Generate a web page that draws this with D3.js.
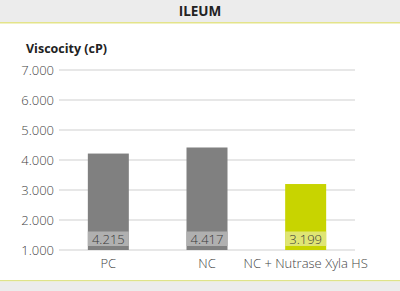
<!DOCTYPE html>
<html>
<head>
<meta charset="utf-8">
<script src="https://cdn.jsdelivr.net/npm/d3@7"></script>
<style>
  body { margin: 0; background: #fff; }
  svg { display: block; font-family: "Open Sans", sans-serif; }
</style>
</head>
<body>
<svg width="400" height="291"></svg>
<script>
const categories = ["PC", "NC", "NC + Nutrase Xyla HS"];
const viscosity = [4215, 4417, 3199];
const valueLabels = ["4.215", "4.417", "3.199"];
const yTicks = [1000, 2000, 3000, 4000, 5000, 6000, 7000];
const yTickLabels = ["1.000", "2.000", "3.000", "4.000", "5.000", "6.000", "7.000"];

const svg = d3.select("svg");
const attr_area = { left: 59, right: 355, top: 70, bottom: 250 };

// header and footer bands
svg.append("rect").attr("x", 0).attr("y", 0).attr("width", 400).attr("height", 22).attr("fill", "#ececec");
svg.append("rect").attr("x", 0).attr("y", 22).attr("width", 400).attr("height", 1.5).attr("fill", "#e4e48a");
svg.append("text").attr("x", 200).attr("y", 16).attr("text-anchor", "middle")
    .attr("font-size", 13.5).attr("font-weight", "bold").attr("fill", "#222").text("ILEUM");

svg.append("rect").attr("x", 0).attr("y", 280).attr("width", 400).attr("height", 1.5).attr("fill", "#dfe38a");
svg.append("rect").attr("x", 0).attr("y", 281.5).attr("width", 400).attr("height", 10).attr("fill", "#ececec");

svg.append("text").attr("x", 26).attr("y", 53)
    .attr("font-size", 12.5).attr("font-weight", "bold").attr("fill", "#222").text("Viscocity (cP)");

let scaleX = d3.scaleBand()
    .domain(categories)
    .range([attr_area.left, attr_area.right])
    .padding(0);

let scaleY = d3.scaleLinear()
    .domain([1000, 7000])
    .range([attr_area.bottom, attr_area.top]);

// gridlines
svg.append("g")
    .selectAll("line")
    .data(yTicks)
    .enter()
    .append("line")
    .attr("x1", attr_area.left)
    .attr("x2", attr_area.right)
    .attr("y1", d => scaleY(d))
    .attr("y2", d => scaleY(d))
    .attr("stroke", "#cfcfcf")
    .attr("stroke-width", 1);

// y axis labels
let axisY = d3.axisLeft(scaleY)
    .tickValues(yTicks)
    .tickFormat((d, i) => yTickLabels[i])
    .tickSize(0)
    .tickPadding(5);
let gy = svg.append("g")
    .attr("transform", `translate(${attr_area.left}, 0)`)
    .call(axisY);
gy.select(".domain").remove();
gy.selectAll("text").attr("font-size", 13).attr("fill", "#444")
    .attr("font-family", "'Open Sans', sans-serif").style("font-weight", 300);

// x axis labels
let axisX = d3.axisBottom(scaleX).tickSize(0).tickPadding(9);
let gx = svg.append("g")
    .attr("transform", `translate(0, ${attr_area.bottom})`)
    .call(axisX);
gx.select(".domain").remove();
gx.selectAll("text").attr("font-size", 13).attr("fill", "#444")
    .attr("font-family", "'Open Sans', sans-serif").style("font-weight", 300);

const barW = 41;
const fills = ["#808080", "#808080", "#c8d400"];
const boxFills = ["#b0b0b0", "#b0b0b0", "#dfe574"];

let bars = svg.append("g").selectAll("g")
    .data(categories)
    .enter()
    .append("g");

bars.append("rect")
    .attr("x", d => scaleX(d) + scaleX.bandwidth() / 2 - barW / 2)
    .attr("y", (d, i) => scaleY(viscosity[i]))
    .attr("width", barW)
    .attr("height", (d, i) => attr_area.bottom - scaleY(viscosity[i]))
    .attr("fill", (d, i) => fills[i]);

bars.append("rect")
    .attr("x", d => scaleX(d) + scaleX.bandwidth() / 2 - barW / 2)
    .attr("y", attr_area.bottom - 18.5)
    .attr("width", barW)
    .attr("height", 14.5)
    .attr("fill", (d, i) => boxFills[i]);

bars.append("text")
    .attr("x", d => scaleX(d) + scaleX.bandwidth() / 2)
    .attr("y", attr_area.bottom - 6.5)
    .attr("text-anchor", "middle")
    .attr("font-size", 13)
    .attr("fill", "#3a3a3a")
    .style("font-weight", 300)
    .text((d, i) => valueLabels[i]);
</script>
</body>
</html>
